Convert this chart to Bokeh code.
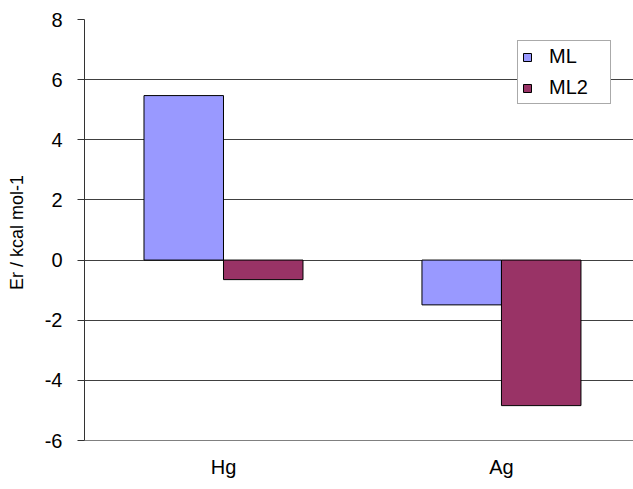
import numpy as np
from bokeh.plotting import figure
from bokeh.models import Range1d, FixedTicker, Legend, LegendItem, ColumnDataSource
from bokeh.embed import file_html
from bokeh.resources import INLINE

categories = ["Hg", "Ag"]
series_names = ["ML", "ML2"]
ml_values = [5.47, -1.49]
ml2_values = [-0.65, -4.84]
y_ticks = [-6, -4, -2, 0, 2, 4, 6, 8]

colors = ["#9999FF", "#993366"]
bar_w = 0.286
idx = np.arange(len(categories))

p = figure(width=633, height=480, output_backend="svg", toolbar_location=None,
           x_range=Range1d(-0.5, 1.475), y_range=Range1d(y_ticks[0], y_ticks[-1]),
           min_border_left=84, min_border_right=0, min_border_top=19, min_border_bottom=39)
p.outline_line_color = None
p.background_fill_color = "white"
p.border_fill_color = "white"

src1 = ColumnDataSource(dict(x=idx - bar_w / 2, top=ml_values))
src2 = ColumnDataSource(dict(x=idx + bar_w / 2, top=ml2_values))
r1 = p.vbar(x="x", top="top", bottom=0, width=bar_w, source=src1,
            fill_color=colors[0], line_color="black", line_width=1)
r2 = p.vbar(x="x", top="top", bottom=0, width=bar_w, source=src2,
            fill_color=colors[1], line_color="black", line_width=1)

font = "Liberation Sans"
# y axis
p.yaxis.ticker = FixedTicker(ticks=y_ticks)
p.yaxis.major_label_overrides = {t: str(t) for t in y_ticks}
p.yaxis.axis_label = "Er  / kcal mol-1"
p.yaxis.axis_label_text_font = font
p.yaxis.axis_label_text_font_size = "18px"
p.yaxis.axis_label_text_font_style = "normal"
p.yaxis.axis_label_text_color = "black"
p.yaxis.axis_label_standoff = 15
p.yaxis.major_label_text_font = font
p.yaxis.major_label_text_font_size = "20px"
p.yaxis.major_label_text_color = "black"
p.yaxis.major_label_standoff = 15
p.yaxis.major_tick_in = 0
p.yaxis.major_tick_out = 7
p.yaxis.minor_tick_line_color = None
p.yaxis.axis_line_color = "#333333"
p.yaxis.major_tick_line_color = "#333333"

# x axis
p.xaxis.ticker = FixedTicker(ticks=list(idx))
p.xaxis.major_label_overrides = {int(i): c for i, c in zip(idx, categories)}
p.xaxis.major_label_text_font = font
p.xaxis.major_label_text_font_size = "20px"
p.xaxis.major_label_text_color = "black"
p.xaxis.major_label_standoff = 15
p.xaxis.major_tick_in = 0
p.xaxis.major_tick_out = 0
p.xaxis.minor_tick_line_color = None
p.xaxis.axis_line_color = "#808080"

p.xgrid.grid_line_color = None
p.ygrid.ticker = FixedTicker(ticks=y_ticks)
p.ygrid.grid_line_color = "#404040"
p.ygrid.grid_line_width = 1

legend = Legend(items=[LegendItem(label=series_names[0], renderers=[r1]),
                       LegendItem(label=series_names[1], renderers=[r2])],
                location=(433, 336))
legend.label_text_font = font
legend.label_text_font_size = "20px"
legend.label_text_color = "black"
legend.glyph_width = 10
legend.glyph_height = 10
legend.label_standoff = 17
legend.label_width = 57
legend.padding = 4
legend.spacing = 8
legend.border_line_color = "#555555"
legend.border_line_width = 1
legend.background_fill_color = "white"
legend.background_fill_alpha = 1
legend.margin = 0
p.add_layout(legend, "center")

open("out.html", "w").write(file_html(p, INLINE))
